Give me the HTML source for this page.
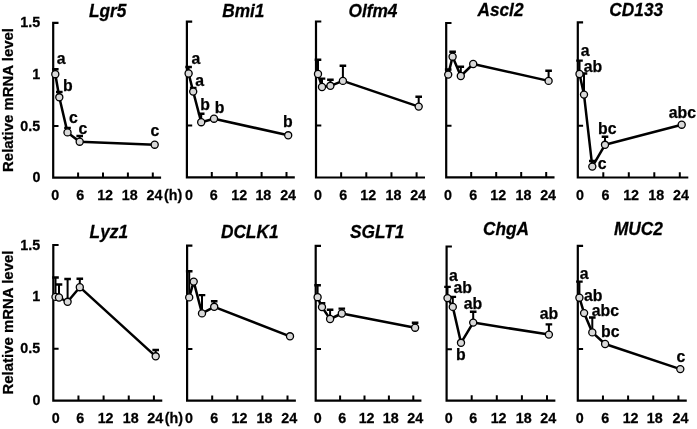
<!DOCTYPE html>
<html><head><meta charset="utf-8"><style>
html,body{margin:0;padding:0;background:#fff;}
svg{display:block;}
text{font-family:"Liberation Sans",sans-serif;fill:#000;stroke:#000;stroke-width:0.25px;}
svg{will-change:transform;}
.b{font-weight:bold;}
.bi{font-weight:bold;font-style:italic;}
.ax{fill:none;stroke:#000;stroke-width:2.2;stroke-linejoin:miter;}
.tk{fill:none;stroke:#000;stroke-width:2.0;}
.eb{fill:none;stroke:#000;stroke-width:2.0;}
.cap{fill:none;stroke:#000;stroke-width:2.4;}
.ln{fill:none;stroke:#000;stroke-width:2.5;stroke-linejoin:round;}
.mk{fill:#d9d9d9;stroke:#000;stroke-width:1.3;}
</style></head><body>
<svg width="697" height="429" viewBox="0 0 697 429">
<rect width="697" height="429" fill="#fff"/>
<path d="M53.2 22.9H58.5M53.2 21.8V177.7H161.1" class="ax"/>
<path d="M53.2 74.5H58.5M53.2 126.1H58.5M78.1 177.7V172.4M103 177.7V172.4M127.9 177.7V172.4M152.8 177.7V172.4" class="tk"/>
<path d="M55.3 74.2V69.3M59.3 97.3V92M67.5 132.4V127.9M79.7 141.7V136" class="eb"/>
<path d="M52 69.3H58.6M56 92H62.6M64.2 127.9H70.8M76.4 136H83" class="cap"/>
<polyline points="55.3,74.2 59.3,97.3 67.5,132.4 79.7,141.7 154.7,144.7" class="ln"/>
<circle cx="55.3" cy="74.2" r="3.55" class="mk"/>
<circle cx="59.3" cy="97.3" r="3.55" class="mk"/>
<circle cx="67.5" cy="132.4" r="3.55" class="mk"/>
<circle cx="79.7" cy="141.7" r="3.55" class="mk"/>
<circle cx="154.7" cy="144.7" r="3.55" class="mk"/>
<text x="56.83" y="63.89" font-size="15.8" class="b" text-anchor="start">a</text>
<text x="62.92" y="90.99" font-size="15.8" class="b" text-anchor="start">b</text>
<text x="69.07" y="123.39" font-size="15.8" class="b" text-anchor="start">c</text>
<text x="78.57" y="133.69" font-size="15.8" class="b" text-anchor="start">c</text>
<text x="150.57" y="136.09" font-size="15.8" class="b" text-anchor="start">c</text>
<text transform="translate(51.33 199.6) scale(1 1.06)" font-size="14.3" class="b" text-anchor="start">0</text>
<text transform="translate(76.13 199.6) scale(1 1.06)" font-size="14.3" class="b" text-anchor="start">6</text>
<text transform="translate(97.18 199.6) scale(1 1.06)" font-size="14.3" class="b" text-anchor="start">12</text>
<text transform="translate(121.71 199.6) scale(1 1.06)" font-size="14.3" class="b" text-anchor="start">18</text>
<text transform="translate(146.55 199.6) scale(1 1.06)" font-size="14.3" class="b" text-anchor="start">24</text>
<text transform="translate(163.96 199.6) scale(1 1.06)" font-size="14.3" class="b" text-anchor="start">(h)</text>
<text transform="translate(20.28 27.4) scale(1 1.06)" font-size="14.3" class="b" text-anchor="start">1.5</text>
<text transform="translate(32.22 79) scale(1 1.06)" font-size="14.3" class="b" text-anchor="start">1</text>
<text transform="translate(20.28 130.6) scale(1 1.06)" font-size="14.3" class="b" text-anchor="start">0.5</text>
<text transform="translate(32.44 182.2) scale(1 1.06)" font-size="14.3" class="b" text-anchor="start">0</text>
<text transform="translate(12.6 100) rotate(-90)" font-size="14.95" class="b" text-anchor="middle">Relative mRNA level</text>
<path d="M186.9 21.7H192.2M186.9 20.6V177.4H294.8" class="ax"/>
<path d="M186.9 73.6H192.2M186.9 125.5H192.2M211.8 177.4V172.1M236.7 177.4V172.1M261.6 177.4V172.1M286.5 177.4V172.1" class="tk"/>
<path d="M188.6 73.5V67M193.2 91.6V88M201.2 122.2V113.8" class="eb"/>
<path d="M185.3 67H191.9M189.9 88H196.5M197.9 113.8H204.5" class="cap"/>
<polyline points="188.6,73.5 193.2,91.6 201.2,122.2 214,118.7 288.2,135.3" class="ln"/>
<circle cx="188.6" cy="73.5" r="3.55" class="mk"/>
<circle cx="193.2" cy="91.6" r="3.55" class="mk"/>
<circle cx="201.2" cy="122.2" r="3.55" class="mk"/>
<circle cx="214" cy="118.7" r="3.55" class="mk"/>
<circle cx="288.2" cy="135.3" r="3.55" class="mk"/>
<text x="191.53" y="63.99" font-size="15.8" class="b" text-anchor="start">a</text>
<text x="195.33" y="85.79" font-size="15.8" class="b" text-anchor="start">a</text>
<text x="200.17" y="109.99" font-size="15.8" class="b" text-anchor="start">b</text>
<text x="214.77" y="112.79" font-size="15.8" class="b" text-anchor="start">b</text>
<text x="282.97" y="126.99" font-size="15.8" class="b" text-anchor="start">b</text>
<text transform="translate(185.03 199.6) scale(1 1.06)" font-size="14.3" class="b" text-anchor="start">0</text>
<text transform="translate(209.73 199.6) scale(1 1.06)" font-size="14.3" class="b" text-anchor="start">6</text>
<text transform="translate(231.28 199.6) scale(1 1.06)" font-size="14.3" class="b" text-anchor="start">12</text>
<text transform="translate(255.41 199.6) scale(1 1.06)" font-size="14.3" class="b" text-anchor="start">18</text>
<text transform="translate(280.15 199.6) scale(1 1.06)" font-size="14.3" class="b" text-anchor="start">24</text>
<path d="M316 21.5H321.3M316 20.4V177.5H424.98" class="ax"/>
<path d="M316 73.5H321.3M316 125.5H321.3M341.15 177.5V172.2M366.3 177.5V172.2M391.45 177.5V172.2M416.6 177.5V172.2" class="tk"/>
<path d="M318 74V59.8M322 87V78.6M330.4 85.8V79.7M342.9 80.9V65.7M418.7 106.6V96.8" class="eb"/>
<path d="M314.7 59.8H321.3M318.7 78.6H325.3M327.1 79.7H333.7M339.6 65.7H346.2M415.4 96.8H422" class="cap"/>
<polyline points="318,74 322,87 330.4,85.8 342.9,80.9 418.7,106.6" class="ln"/>
<circle cx="318" cy="74" r="3.55" class="mk"/>
<circle cx="322" cy="87" r="3.55" class="mk"/>
<circle cx="330.4" cy="85.8" r="3.55" class="mk"/>
<circle cx="342.9" cy="80.9" r="3.55" class="mk"/>
<circle cx="418.7" cy="106.6" r="3.55" class="mk"/>
<text transform="translate(314.03 199.6) scale(1 1.06)" font-size="14.3" class="b" text-anchor="start">0</text>
<text transform="translate(339.33 199.6) scale(1 1.06)" font-size="14.3" class="b" text-anchor="start">6</text>
<text transform="translate(360.28 199.6) scale(1 1.06)" font-size="14.3" class="b" text-anchor="start">12</text>
<text transform="translate(385.51 199.6) scale(1 1.06)" font-size="14.3" class="b" text-anchor="start">18</text>
<text transform="translate(410.15 199.6) scale(1 1.06)" font-size="14.3" class="b" text-anchor="start">24</text>
<path d="M446.2 23H451.5M446.2 21.9V177.3H554.53" class="ax"/>
<path d="M446.2 74.43H451.5M446.2 125.87H451.5M471.2 177.3V172M496.2 177.3V172M521.2 177.3V172M546.2 177.3V172" class="tk"/>
<path d="M448.2 74.6V69.5M452.6 56.7V51.8M460.8 76V66.7M548.6 80.9V70.8" class="eb"/>
<path d="M444.9 69.5H451.5M449.3 51.8H455.9M457.5 66.7H464.1M545.3 70.8H551.9" class="cap"/>
<polyline points="448.2,74.6 452.6,56.7 460.8,76 473.2,64 548.6,80.9" class="ln"/>
<circle cx="448.2" cy="74.6" r="3.55" class="mk"/>
<circle cx="452.6" cy="56.7" r="3.55" class="mk"/>
<circle cx="460.8" cy="76" r="3.55" class="mk"/>
<circle cx="473.2" cy="64" r="3.55" class="mk"/>
<circle cx="548.6" cy="80.9" r="3.55" class="mk"/>
<text transform="translate(444.03 199.6) scale(1 1.06)" font-size="14.3" class="b" text-anchor="start">0</text>
<text transform="translate(469.33 199.6) scale(1 1.06)" font-size="14.3" class="b" text-anchor="start">6</text>
<text transform="translate(490.28 199.6) scale(1 1.06)" font-size="14.3" class="b" text-anchor="start">12</text>
<text transform="translate(515.51 199.6) scale(1 1.06)" font-size="14.3" class="b" text-anchor="start">18</text>
<text transform="translate(540.15 199.6) scale(1 1.06)" font-size="14.3" class="b" text-anchor="start">24</text>
<path d="M577.8 22.3H583.1M577.8 21.2V177.5H688.3" class="ax"/>
<path d="M577.8 74.03H583.1M577.8 125.77H583.1M603.3 177.5V172.2M628.8 177.5V172.2M654.3 177.5V172.2M679.8 177.5V172.2" class="tk"/>
<path d="M579.5 74V60.6M584 94.6V73.5M592.3 166.6V161M605 144.8V136.8" class="eb"/>
<path d="M576.2 60.6H582.8M580.7 73.5H587.3M589 161H595.6M601.7 136.8H608.3" class="cap"/>
<polyline points="579.5,74 584,94.6 592.3,166.6 605,144.8 681.7,124.7" class="ln"/>
<circle cx="579.5" cy="74" r="3.55" class="mk"/>
<circle cx="584" cy="94.6" r="3.55" class="mk"/>
<circle cx="592.3" cy="166.6" r="3.55" class="mk"/>
<circle cx="605" cy="144.8" r="3.55" class="mk"/>
<circle cx="681.7" cy="124.7" r="3.55" class="mk"/>
<text x="580.83" y="55.79" font-size="15.8" class="b" text-anchor="start">a</text>
<text x="583.83" y="71.69" font-size="15.8" class="b" text-anchor="start">ab</text>
<text x="597.67" y="168.79" font-size="15.8" class="b" text-anchor="start">c</text>
<text x="598.07" y="134.19" font-size="15.8" class="b" text-anchor="start">bc</text>
<text x="668.73" y="118.29" font-size="15.8" class="b" text-anchor="start">abc</text>
<text transform="translate(576.03 199.6) scale(1 1.06)" font-size="14.3" class="b" text-anchor="start">0</text>
<text transform="translate(601.53 199.6) scale(1 1.06)" font-size="14.3" class="b" text-anchor="start">6</text>
<text transform="translate(623.18 199.6) scale(1 1.06)" font-size="14.3" class="b" text-anchor="start">12</text>
<text transform="translate(648.31 199.6) scale(1 1.06)" font-size="14.3" class="b" text-anchor="start">18</text>
<text transform="translate(673.05 199.6) scale(1 1.06)" font-size="14.3" class="b" text-anchor="start">24</text>
<path d="M53.3 245H58.6M53.3 243.9V400.7H162.28" class="ax"/>
<path d="M53.3 296.9H58.6M53.3 348.8H58.6M78.45 400.7V395.4M103.6 400.7V395.4M128.75 400.7V395.4M153.9 400.7V395.4" class="tk"/>
<path d="M55.5 296.9V277.5M59 297.5V284.5M67.6 301.8V279M79.8 287.2V278.7M155.7 356.3V350" class="eb"/>
<path d="M52.2 277.5H58.8M55.7 284.5H62.3M64.3 279H70.9M76.5 278.7H83.1M152.4 350H159" class="cap"/>
<polyline points="55.5,296.9 59,297.5 67.6,301.8 79.8,287.2 155.7,356.3" class="ln"/>
<circle cx="55.5" cy="296.9" r="3.55" class="mk"/>
<circle cx="59" cy="297.5" r="3.55" class="mk"/>
<circle cx="67.6" cy="301.8" r="3.55" class="mk"/>
<circle cx="79.8" cy="287.2" r="3.55" class="mk"/>
<circle cx="155.7" cy="356.3" r="3.55" class="mk"/>
<text transform="translate(51.63 423.1) scale(1 1.06)" font-size="14.3" class="b" text-anchor="start">0</text>
<text transform="translate(76.23 423.1) scale(1 1.06)" font-size="14.3" class="b" text-anchor="start">6</text>
<text transform="translate(97.68 423.1) scale(1 1.06)" font-size="14.3" class="b" text-anchor="start">12</text>
<text transform="translate(122.71 423.1) scale(1 1.06)" font-size="14.3" class="b" text-anchor="start">18</text>
<text transform="translate(147.35 423.1) scale(1 1.06)" font-size="14.3" class="b" text-anchor="start">24</text>
<text transform="translate(164.76 423.1) scale(1 1.06)" font-size="14.3" class="b" text-anchor="start">(h)</text>
<text transform="translate(20.28 249.5) scale(1 1.06)" font-size="14.3" class="b" text-anchor="start">1.5</text>
<text transform="translate(32.22 301.4) scale(1 1.06)" font-size="14.3" class="b" text-anchor="start">1</text>
<text transform="translate(20.28 353.3) scale(1 1.06)" font-size="14.3" class="b" text-anchor="start">0.5</text>
<text transform="translate(32.44 405.2) scale(1 1.06)" font-size="14.3" class="b" text-anchor="start">0</text>
<text transform="translate(12.6 322.55) rotate(-90)" font-size="14.95" class="b" text-anchor="middle">Relative mRNA level</text>
<path d="M187.1 245.6H192.4M187.1 244.5V400.7H295.87" class="ax"/>
<path d="M187.1 297.3H192.4M187.1 349H192.4M212.2 400.7V395.4M237.3 400.7V395.4M262.4 400.7V395.4M287.5 400.7V395.4" class="tk"/>
<path d="M189.2 297.4V271.3M202 313.4V295.1M214.2 306.8V301.2" class="eb"/>
<path d="M185.9 271.3H192.5M198.7 295.1H205.3M210.9 301.2H217.5" class="cap"/>
<polyline points="189.2,297.4 193.7,281.6 202,313.4 214.2,306.8 290,336.3" class="ln"/>
<circle cx="189.2" cy="297.4" r="3.55" class="mk"/>
<circle cx="193.7" cy="281.6" r="3.55" class="mk"/>
<circle cx="202" cy="313.4" r="3.55" class="mk"/>
<circle cx="214.2" cy="306.8" r="3.55" class="mk"/>
<circle cx="290" cy="336.3" r="3.55" class="mk"/>
<text transform="translate(185.03 423.1) scale(1 1.06)" font-size="14.3" class="b" text-anchor="start">0</text>
<text transform="translate(210.23 423.1) scale(1 1.06)" font-size="14.3" class="b" text-anchor="start">6</text>
<text transform="translate(231.58 423.1) scale(1 1.06)" font-size="14.3" class="b" text-anchor="start">12</text>
<text transform="translate(256.61 423.1) scale(1 1.06)" font-size="14.3" class="b" text-anchor="start">18</text>
<text transform="translate(281.35 423.1) scale(1 1.06)" font-size="14.3" class="b" text-anchor="start">24</text>
<path d="M315.7 245.8H321M315.7 244.7V400.7H421.43" class="ax"/>
<path d="M315.7 297.43H321M315.7 349.07H321M340.1 400.7V395.4M364.5 400.7V395.4M388.9 400.7V395.4M413.3 400.7V395.4" class="tk"/>
<path d="M317.6 297.2V285.2M322 307.1V303.3M330.1 319V309.7M341.8 313.5V308.6M415.1 327.7V322.8" class="eb"/>
<path d="M314.3 285.2H320.9M318.7 303.3H325.3M326.8 309.7H333.4M338.5 308.6H345.1M411.8 322.8H418.4" class="cap"/>
<polyline points="317.6,297.2 322,307.1 330.1,319 341.8,313.5 415.1,327.7" class="ln"/>
<circle cx="317.6" cy="297.2" r="3.55" class="mk"/>
<circle cx="322" cy="307.1" r="3.55" class="mk"/>
<circle cx="330.1" cy="319" r="3.55" class="mk"/>
<circle cx="341.8" cy="313.5" r="3.55" class="mk"/>
<circle cx="415.1" cy="327.7" r="3.55" class="mk"/>
<text transform="translate(313.63 423.1) scale(1 1.06)" font-size="14.3" class="b" text-anchor="start">0</text>
<text transform="translate(338.23 423.1) scale(1 1.06)" font-size="14.3" class="b" text-anchor="start">6</text>
<text transform="translate(358.68 423.1) scale(1 1.06)" font-size="14.3" class="b" text-anchor="start">12</text>
<text transform="translate(382.71 423.1) scale(1 1.06)" font-size="14.3" class="b" text-anchor="start">18</text>
<text transform="translate(407.35 423.1) scale(1 1.06)" font-size="14.3" class="b" text-anchor="start">24</text>
<path d="M446.6 246.5H451.9M446.6 245.4V400.6H555.37" class="ax"/>
<path d="M446.6 297.87H451.9M446.6 349.23H451.9M471.7 400.6V395.3M496.8 400.6V395.3M521.9 400.6V395.3M547 400.6V395.3" class="tk"/>
<path d="M447.5 298.1V286.9M452.8 306.9V296.9M473.2 322.6V311.8M548.9 334.6V324.4" class="eb"/>
<path d="M444.2 286.9H450.8M449.5 296.9H456.1M469.9 311.8H476.5M545.6 324.4H552.2" class="cap"/>
<polyline points="447.5,298.1 452.8,306.9 461,342.8 473.2,322.6 548.9,334.6" class="ln"/>
<circle cx="447.5" cy="298.1" r="3.55" class="mk"/>
<circle cx="452.8" cy="306.9" r="3.55" class="mk"/>
<circle cx="461" cy="342.8" r="3.55" class="mk"/>
<circle cx="473.2" cy="322.6" r="3.55" class="mk"/>
<circle cx="548.9" cy="334.6" r="3.55" class="mk"/>
<text x="449.03" y="280.89" font-size="15.8" class="b" text-anchor="start">a</text>
<text x="453.53" y="292.59" font-size="15.8" class="b" text-anchor="start">ab</text>
<text x="455.97" y="360.19" font-size="15.8" class="b" text-anchor="start">b</text>
<text x="463.83" y="308.69" font-size="15.8" class="b" text-anchor="start">ab</text>
<text x="539.83" y="319.49" font-size="15.8" class="b" text-anchor="start">ab</text>
<text transform="translate(444.63 423.1) scale(1 1.06)" font-size="14.3" class="b" text-anchor="start">0</text>
<text transform="translate(469.23 423.1) scale(1 1.06)" font-size="14.3" class="b" text-anchor="start">6</text>
<text transform="translate(490.68 423.1) scale(1 1.06)" font-size="14.3" class="b" text-anchor="start">12</text>
<text transform="translate(515.71 423.1) scale(1 1.06)" font-size="14.3" class="b" text-anchor="start">18</text>
<text transform="translate(540.35 423.1) scale(1 1.06)" font-size="14.3" class="b" text-anchor="start">24</text>
<path d="M577.8 245.8H583.1M577.8 244.7V400.7H686.78" class="ax"/>
<path d="M577.8 297.43H583.1M577.8 349.07H583.1M602.95 400.7V395.4M628.1 400.7V395.4M653.25 400.7V395.4M678.4 400.7V395.4" class="tk"/>
<path d="M579.4 297.7V281.6M592.3 332.4V317.5" class="eb"/>
<path d="M576.1 281.6H582.7M589 317.5H595.6" class="cap"/>
<polyline points="579.4,297.7 584.1,313.1 592.3,332.4 605.1,344 680.3,369.1" class="ln"/>
<circle cx="579.4" cy="297.7" r="3.55" class="mk"/>
<circle cx="584.1" cy="313.1" r="3.55" class="mk"/>
<circle cx="592.3" cy="332.4" r="3.55" class="mk"/>
<circle cx="605.1" cy="344" r="3.55" class="mk"/>
<circle cx="680.3" cy="369.1" r="3.55" class="mk"/>
<text x="579.73" y="279.09" font-size="15.8" class="b" text-anchor="start">a</text>
<text x="584.03" y="301.09" font-size="15.8" class="b" text-anchor="start">ab</text>
<text x="591.83" y="315.69" font-size="15.8" class="b" text-anchor="start">abc</text>
<text x="601.07" y="337.29" font-size="15.8" class="b" text-anchor="start">bc</text>
<text x="676.57" y="361.79" font-size="15.8" class="b" text-anchor="start">c</text>
<text transform="translate(575.63 423.1) scale(1 1.06)" font-size="14.3" class="b" text-anchor="start">0</text>
<text transform="translate(601.23 423.1) scale(1 1.06)" font-size="14.3" class="b" text-anchor="start">6</text>
<text transform="translate(622.68 423.1) scale(1 1.06)" font-size="14.3" class="b" text-anchor="start">12</text>
<text transform="translate(646.81 423.1) scale(1 1.06)" font-size="14.3" class="b" text-anchor="start">18</text>
<text transform="translate(672.45 423.1) scale(1 1.06)" font-size="14.3" class="b" text-anchor="start">24</text>
<text transform="translate(89.01 16.6) scale(1 1.05)" font-size="17.3" class="bi" text-anchor="start">Lgr5</text>
<text transform="translate(222.15 16.5) scale(1 1.05)" font-size="17.3" class="bi" text-anchor="start">Bmi1</text>
<text transform="translate(348.47 16.6) scale(1 1.05)" font-size="17.3" class="bi" text-anchor="start">Olfm4</text>
<text transform="translate(477.41 16.4) scale(1 1.05)" font-size="17.3" class="bi" text-anchor="start">Ascl2</text>
<text transform="translate(609.35 15.6) scale(1 1.05)" font-size="17.3" class="bi" text-anchor="start">CD133</text>
<text transform="translate(89.6 237.6) scale(1 1.05)" font-size="17.3" class="bi" text-anchor="start">Lyz1</text>
<text transform="translate(220.9 237.6) scale(1 1.05)" font-size="17.3" class="bi" text-anchor="start">DCLK1</text>
<text transform="translate(349.94 237.6) scale(1 1.05)" font-size="17.3" class="bi" text-anchor="start">SGLT1</text>
<text transform="translate(483.02 235.4) scale(1 1.05)" font-size="17.3" class="bi" text-anchor="start">ChgA</text>
<text transform="translate(613.93 235.4) scale(1 1.05)" font-size="17.3" class="bi" text-anchor="start">MUC2</text>
</svg>
</body></html>
